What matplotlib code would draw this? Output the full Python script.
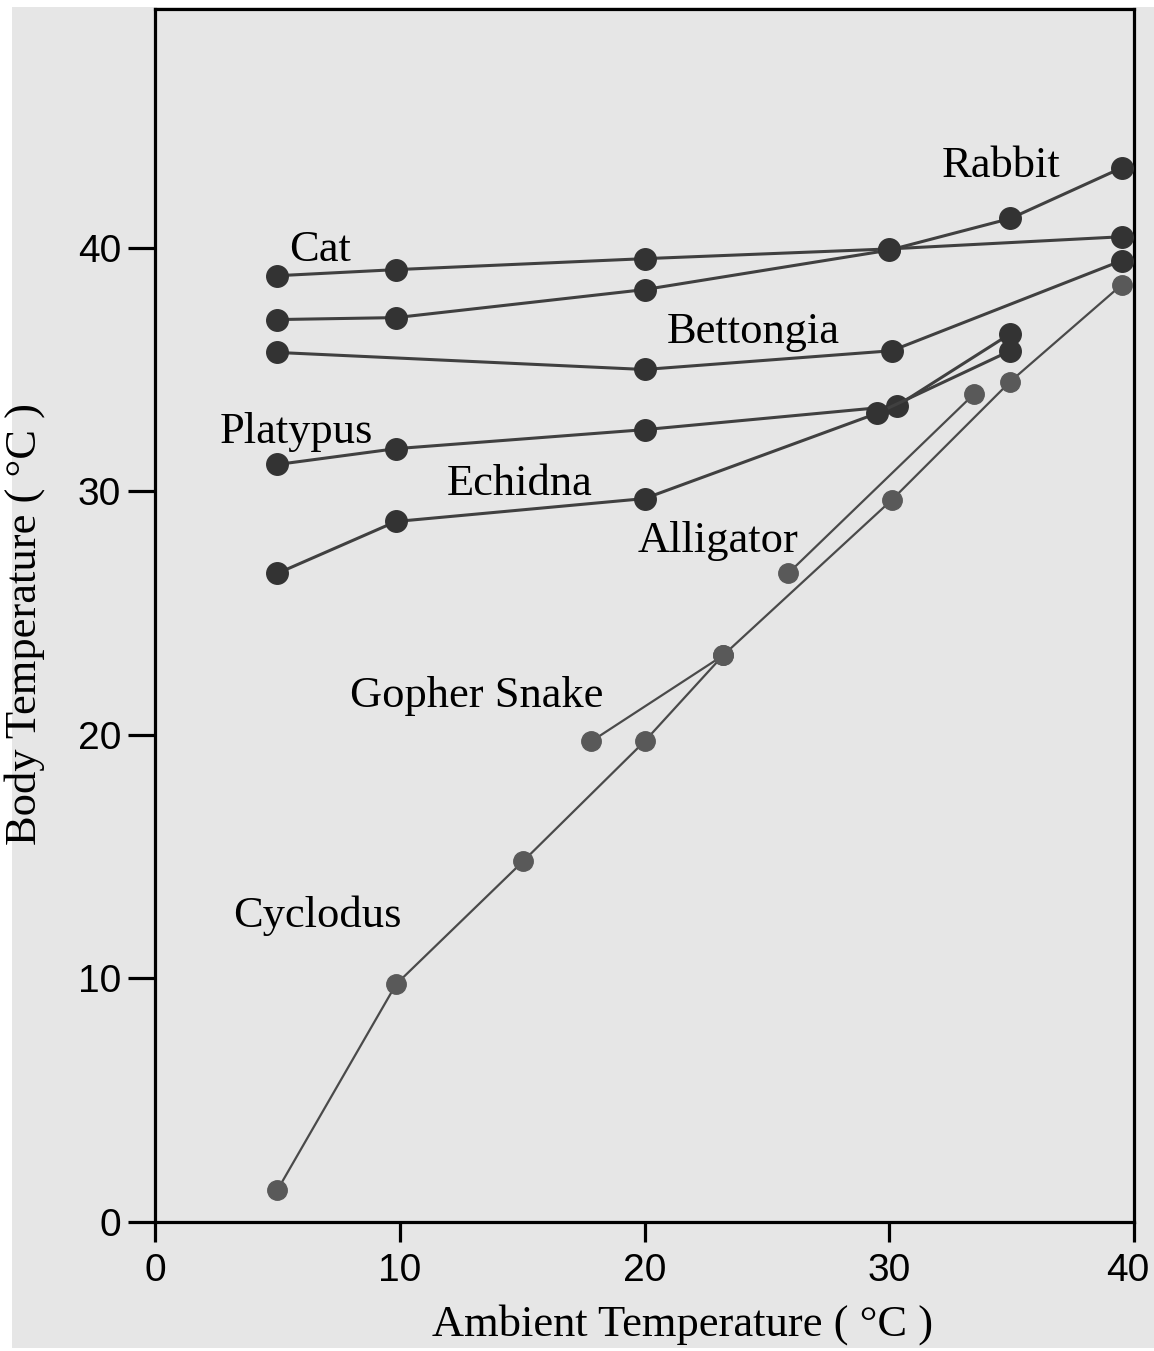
import matplotlib
matplotlib.use("Agg")
import matplotlib.pyplot as plt
from matplotlib.patches import Rectangle
from matplotlib.transforms import ScaledTranslation

# ambient / body temperature readings per animal (deg C)
cat_x = [5, 9.85, 20, 30, 39.5]
cat_y = [38.85, 39.1, 39.55, 39.95, 40.45]

rabbit_x = [5, 9.85, 20, 30, 34.95, 39.5]
rabbit_y = [37.05, 37.13, 38.28, 39.9, 41.2, 43.28]

bettongia_x = [5, 20, 30.1, 39.5]
bettongia_y = [35.7, 35.0, 35.77, 39.47]

platypus_x = [5, 9.85, 20, 30.3, 34.95]
platypus_y = [31.1, 31.75, 32.53, 33.5, 36.47]

echidna_x = [5, 9.85, 20, 29.5, 34.95]
echidna_y = [26.63, 28.76, 29.7, 33.2, 35.77]

alligator_x = [25.87, 33.47]
alligator_y = [26.63, 34.0]

gopher_x = [17.82, 23.21]
gopher_y = [19.73, 23.26]

cyclodus_x = [5, 9.85, 15.04, 20, 23.21, 30.12, 34.94, 39.5]
cyclodus_y = [1.31, 9.76, 14.81, 19.73, 23.26, 29.66, 34.5, 38.48]

labels = ["Cat", "Rabbit", "Bettongia", "Platypus", "Echidna",
          "Alligator", "Gopher Snake", "Cyclodus"]
label_x = [5.5, 32.15, 20.9, 2.65, 11.9, 19.7, 7.95, 3.2]
label_y = [39.45, 42.9, 36.1, 32.0, 29.85, 27.5, 21.15, 12.1]

bg = "#e6e6e6"
dark_mark, dark_line = "#333333", "#404040"
gray_mark, gray_line = "#595959", "#4a4a4a"

fig = plt.figure(figsize=(11.54, 13.51), dpi=100)
fig.patch.set_facecolor("white")
fig.patches.append(Rectangle((12 / 1154, 3 / 1351), 1 - 12 / 1154, 1341 / 1351,
                             transform=fig.transFigure, facecolor=bg,
                             edgecolor="none", zorder=-10))

ax = fig.add_axes([155 / 1154, 129 / 1351, 979 / 1154, 1213 / 1351])
ax.set_facecolor(bg)

endo = [(cat_x, cat_y), (rabbit_x, rabbit_y), (bettongia_x, bettongia_y),
        (platypus_x, platypus_y), (echidna_x, echidna_y)]
ecto = [(alligator_x, alligator_y), (gopher_x, gopher_y), (cyclodus_x, cyclodus_y)]

for xs, ys in endo:
    ax.plot(xs, ys, color=dark_line, lw=2.2, marker="o", ms=15.5,
            mfc=dark_mark, mec=dark_mark, clip_on=False, zorder=3)
for xs, ys in ecto:
    ax.plot(xs, ys, color=gray_line, lw=1.6, marker="o", ms=14,
            mfc=gray_mark, mec=gray_mark, clip_on=False, zorder=3)

for t, x, y in zip(labels, label_x, label_y):
    ax.text(x, y, t, fontsize=32, family="Liberation Serif",
            ha="left", va="baseline", color="black")

ax.set_xlim(0, 40)
ax.set_ylim(0, 49.8)
ax.set_xticks([0, 10, 20, 30, 40])
ax.set_yticks([0, 10, 20, 30, 40])

for s in ["left", "bottom", "right", "top"]:
    ax.spines[s].set_linewidth(2.3)
    ax.spines[s].set_color("black")

ax.tick_params(axis="x", direction="out", length=14.5, width=2.3, pad=8,
               labelsize=28)
ax.tick_params(axis="y", direction="out", length=19.5, width=2.3, pad=5,
               labelsize=28)
for lab in ax.get_xticklabels() + ax.get_yticklabels():
    lab.set_family("Liberation Sans")

# last x tick label nudged left so it stays inside the figure
last = ax.get_xticklabels()[-1]
last.set_transform(last.get_transform() + ScaledTranslation(-6 / 100, 0, fig.dpi_scale_trans))

ax.set_xlabel("Ambient Temperature ( °C )", fontsize=32, family="Liberation Serif")
ax.set_ylabel("Body Temperature ( °C )", fontsize=32, family="Liberation Serif")
ax.xaxis.set_label_coords(0.539, -0.068)
ax.yaxis.set_label_coords(-0.112, 0.493)

fig.savefig("out.png", dpi=100)
